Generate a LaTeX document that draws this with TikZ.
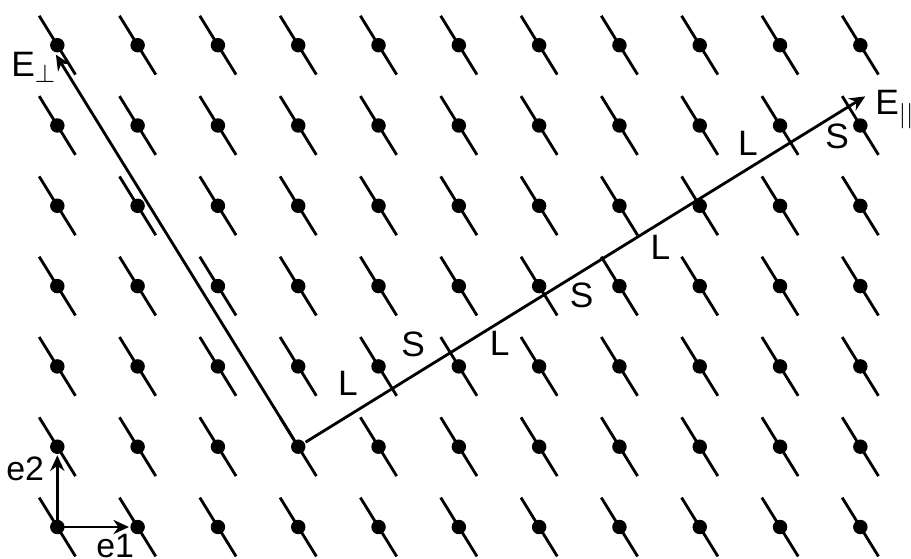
\documentclass[tikz,border=0pt]{standalone}
\usepackage{fontspec}
\setmainfont{Liberation Sans}
\usetikzlibrary{arrows.meta,calc}
\begin{document}
\begin{tikzpicture}[line width=1pt,
    site/.style={circle,fill,inner sep=0pt,minimum size=0.18cm},
    lbl/.style={font=\fontsize{12.5}{15}\selectfont,inner sep=0pt},
    small/.style={font=\fontsize{12}{14}\selectfont,inner sep=0pt},
    vec/.style={-{Stealth[length=5.5pt,width=5pt]}}]
    \useasboundingbox (-0.714,-0.386) rectangle (10.631,6.563);

    % Window segments (parallel to E_perp) through every lattice site
    \foreach \i in {0,...,10}
        \foreach \j in {0,...,6}
            \draw (\i+0.226,\j-0.366) -- (\i-0.226,\j+0.366);

    % Lattice sites
    \foreach \i in {0,...,10}
        \foreach \j in {0,...,6}
            \node[site] (p-\i-\j) at (\i,\j) {};

    % Basis vectors
    \draw[vec] (p-0-0.center) -- (p-1-0);
    \draw[vec] (p-0-0.center) -- (p-0-1);
    \node[small] (e1) at (0.72,-0.24) {e1};
    \node[small] (e2) at (-0.40,0.72) {e2};

    % Physical and perpendicular spaces
    \coordinate (Epar) at (10.061,5.363);
    \coordinate (Eperp) at (-0.018,5.883);
    \draw[vec] (p-3-1) -- (Epar);
    \draw[vec] (p-3-1) -- (Eperp);
    \node[lbl,anchor=base west] (Eparlbl) at (10.17,5.131) {E$_{||}$};
    \node[lbl,anchor=base west] (Eperplbl) at (-0.59,5.616) {E$_\perp$};

    % Long and short tiles along E_par
    \node[lbl] (L1) at (3.62,1.79) {L};
    \node[lbl] (S1) at (4.43,2.27) {S};
    \node[lbl] (L2) at (5.51,2.29) {L};
    \node[lbl] (S2) at (6.53,2.88) {S};
    \node[lbl] (L3) at (7.51,3.48) {L};
    \node[lbl] (L4) at (8.60,4.78) {L};
    \node[lbl] (S3) at (9.71,4.87) {S};
\end{tikzpicture}
\end{document}
